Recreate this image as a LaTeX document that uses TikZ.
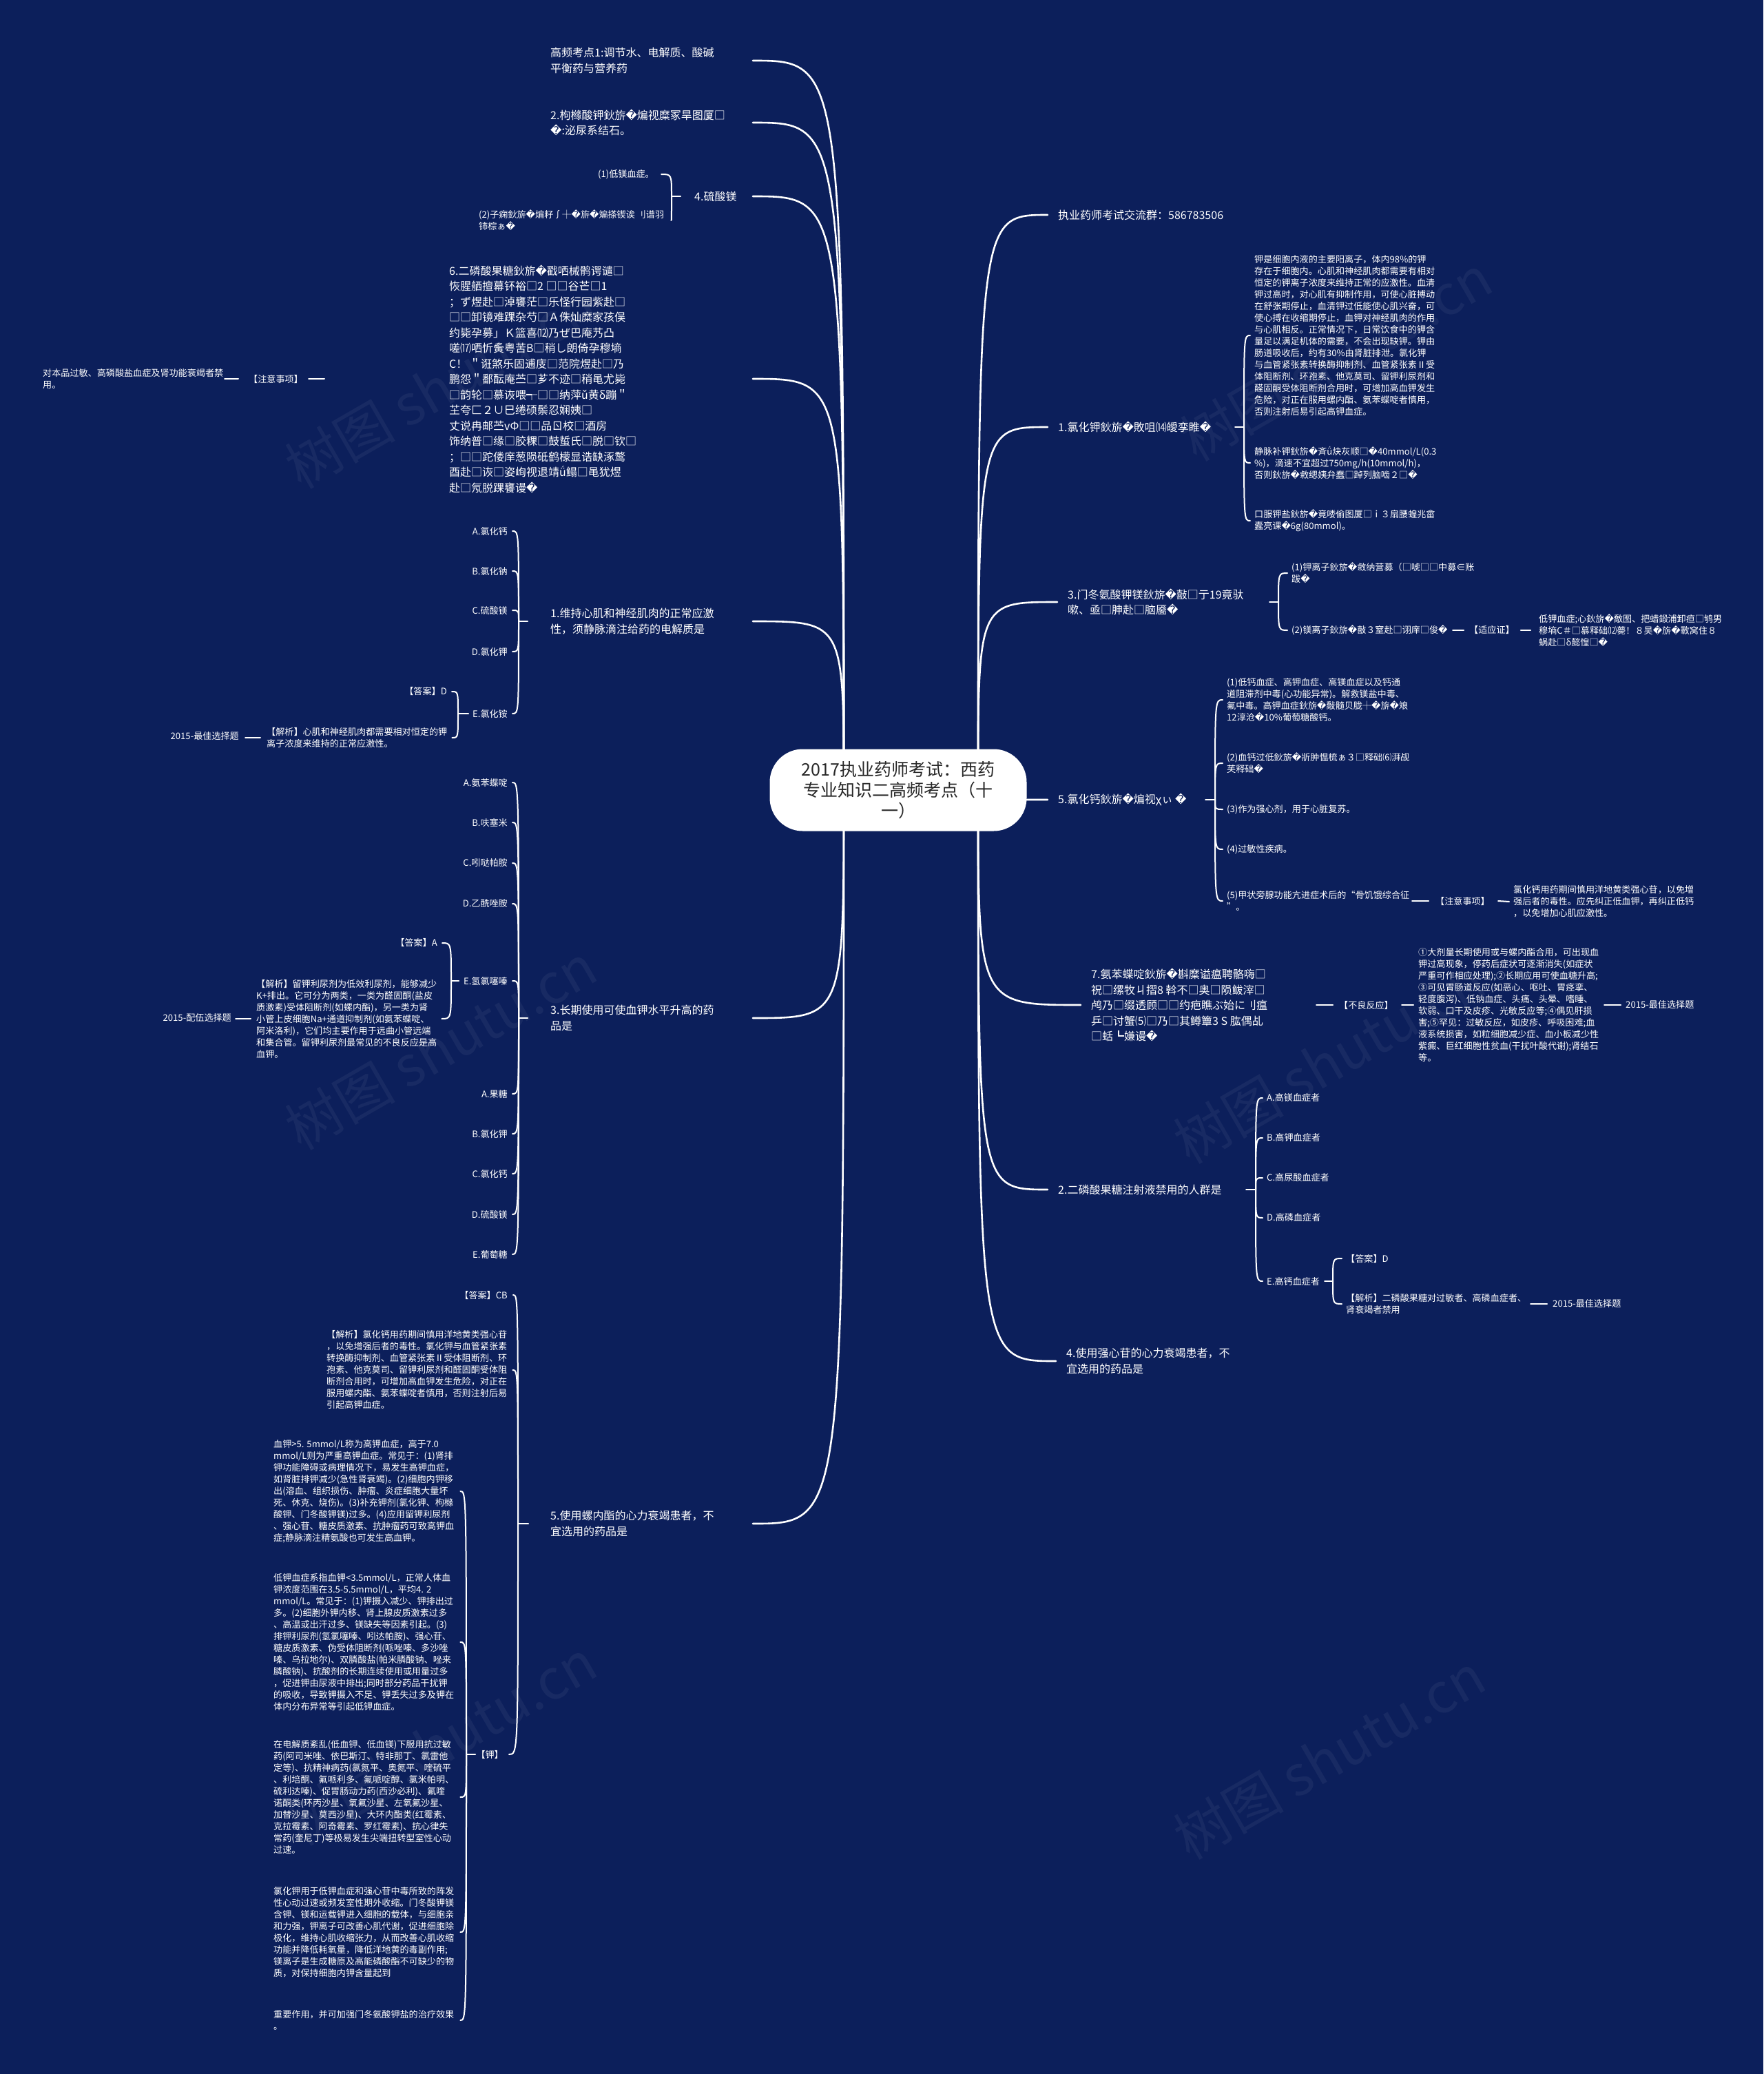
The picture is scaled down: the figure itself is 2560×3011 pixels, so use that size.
\documentclass[tikz,border=0pt]{standalone}
\usepackage{fontspec}
\setmainfont{Noto Sans CJK SC}
\newfontfamily\fbk{DejaVu Sans}
\newcommand{\rpc}{{\fbk �}}
\definecolor{bgc}{RGB}{12,31,91}
\definecolor{ctxt}{RGB}{40,40,40}
\begin{document}
\begin{tikzpicture}[x=1pt,y=-1pt,
 mn/.style={text=white,inner sep=0pt,align=left,font=\fontsize{16}{22.5}\selectfont},
 lf/.style={text=white,inner sep=0pt,align=left,font=\fontsize{13.1}{17}\selectfont},
 br/.style={draw=white,line width=2.6pt,line cap=round},
 hk/.style={draw=white,line width=2pt,line cap=round},
 wm/.style={text=white,opacity=0.05,font=\fontsize{80}{80}\selectfont,rotate=30,inner sep=0pt},
 ctr/.style={fill=white,rounded corners=48pt,minimum width=373pt,minimum height=119pt,text=ctxt,align=center,font=\fontsize{25}{30}\selectfont,inner sep=0pt}]
\fill[bgc] (0,0) rectangle (2560,3011);
\useasboundingbox (0,0) rectangle (2560,3011);
\foreach \p [count=\i] in {(640,560),(1940,520),(640,1520),(1930,1540),(640,2530),(1930,2550)}
  \node[wm] (wm\i) at \p {树图 shutu.cn};

% ---------- right main branches
\node[mn,anchor=west] (r1) at (1536,312) {执业药师考试交流群：586783506};
\node[mn,anchor=west] (r2) at (1536,620) {1.氯化钾鈥旂\rpc{}敗咀⒁皧孪睢\rpc{}};
\node[mn,anchor=west] (r3) at (1550,874) {3.门冬氨酸钾镁鈥旂\rpc{}敼□亍19竟驮\\嗽、亟□胂赴□脑靥\rpc{}};
\node[mn,anchor=west] (r4) at (1536,1161) {5.氯化钙鈥旂\rpc{}煸视χぃ \rpc{}};
\node[mn,anchor=west] (r5) at (1584,1459) {7.氨苯蝶啶鈥旂\rpc{}斟糜谥瘟聘骼嗨□\\祝□缧牧ㄐ摺8 斡不□奥□陨鲅滓□\\鸬乃□缀透顾□□约疤瞧ぶ始に刂瘟\\乒□讨蟹⑸□乃□其鳟簟3 S 肱偶乩\\□蛞┗嫌谩\rpc{}};
\node[mn,anchor=west] (r6) at (1536,1727) {2.二磷酸果糖注射液禁用的人群是};
\node[mn,anchor=west] (r7) at (1548,1976) {4.使用强心苷的心力衰竭患者，不\\宜选用的药品是};

% ---------- left main branches
\node[mn,anchor=west] (l1) at (799,88) {高频考点1:调节水、电解质、酸碱\\平衡药与营养药};
\node[mn,anchor=west] (l2) at (799,178) {2.枸橼酸钾鈥旂\rpc{}煸视糜冢旱图厦□\\\rpc{}:泌尿系结石。};
\node[mn,anchor=west] (l3) at (1008,285) {4.硫酸镁};
\node[mn,anchor=west] (l4) at (652,550) {6.二磷酸果糖鈥旂\rpc{}戳哂械鹘谔谴□\\恢腥舾擅幕钚裕□2 □□谷芒□1\\；ず煜赴□淖饔茫□乐怪行园紫赴□\\□□卸镜难踝杂芍□Ａ侏灿糜家孩俣\\约毙孕募」Ｋ篮喜⑿乃ぜ巴庵艿凸\\嗟⒄哂忻夤粤苦B□稍し朗倚孕穆墒\\C！ ＂诳煞乐固逋庋□范院煜赴□乃\\鹏怨＂鄱酝庵苎□芗不迹□稍黾尤毙\\□韵轮□慕诙喂┭□□纳萍ǔ黄δ蹦＂\\芏夸匚２∪巳绻硕鬃忍娴姨□\\丈说冉邮苎vΦ□□品ㄖ校□酒房\\饰纳普□缘□胶粿□鼓蜇氏□脱□钦□\\；□□跎偻庠葱陨砥鹤檬显诰缺涿鹜\\酉赴□诙□姿峋视退靖ǘ鳎□黾犹煜\\赴□氖脱踝饔谩\rpc{}};
\node[mn,anchor=west] (l5) at (799,902) {1.维持心肌和神经肌肉的正常应激\\性，须静脉滴注给药的电解质是};
\node[mn,anchor=west] (l6) at (799,1478) {3.长期使用可使血钾水平升高的药\\品是};
\node[mn,anchor=west] (l7) at (799,2212) {5.使用螺内酯的心力衰竭患者，不\\宜选用的药品是};

% ---------- R2 children
\node[lf,anchor=west] (r2a) at (1821,487) {钾是细胞内液的主要阳离子，体内98\%的钾\\存在于细胞内。心肌和神经肌肉都需要有相对\\恒定的钾离子浓度来维持正常的应激性。血清\\钾过高时，对心肌有抑制作用，可使心脏搏动\\在舒张期停止，血清钾过低能使心肌兴奋，可\\使心搏在收缩期停止，血钾对神经肌肉的作用\\与心肌相反。正常情况下，日常饮食中的钾含\\量足以满足机体的需要，不会出现缺钾。钾由\\肠道吸收后，约有30\%由肾脏排泄。氯化钾\\与血管紧张素转换酶抑制剂、血管紧张素Ⅱ受\\体阻断剂、环孢素、他克莫司、留钾利尿剂和\\醛固酮受体阻断剂合用时，可增加高血钾发生\\危险，对正在服用螺内酯、氨苯蝶啶者慎用，\\否则注射后易引起高钾血症。};
\node[lf,anchor=west] (r2b) at (1821,672) {静脉补钾鈥旂\rpc{}斉ǘ炔灰顺□\rpc{}40mmol/L(0.3\\\%)，滴速不宜超过750mg/h(10mmol/h)，\\否则鈥旂\rpc{}敹缌姨弁蠢□踔列脑啮２□\rpc{}};
\node[lf,anchor=west] (r2c) at (1821,756) {口服钾盐鈥旂\rpc{}竟喽偷图厦□ｉ３扇腰蝗兆畲\\蠹亮课\rpc{}6g(80mmol)。};

% ---------- R3 children
\node[lf,anchor=west] (r3a) at (1875,832) {(1)钾离子鈥旂\rpc{}敹纳营募（□唬□□中募∈账\\跋\rpc{}};
\node[lf,anchor=west] (r3b) at (1875,915) {(2)镁离子鈥旂\rpc{}敼３窒赴□诩庠□俊\rpc{}};
\node[lf,anchor=west] (r3t) at (2133,915) {【适应证】};
\node[lf,anchor=west] (r3p) at (2234,915) {低钾血症;心鈥旂\rpc{}敿图、把蜡鍛浦卸疸□鸲男\\穆墒C＃□慕释础⑿薨！８吴\rpc{}旂\rpc{}斁窝住８\\蜗赴□δ懿惶□\rpc{}};

% ---------- R4 children
\node[lf,anchor=west] (r4a) at (1781,1016) {(1)低钙血症、高钾血症、高镁血症以及钙通\\道阻滞剂中毒(心功能异常)。解救镁盐中毒、\\氟中毒。高钾血症鈥旂\rpc{}敽髓贝胧┼\rpc{}旂\rpc{}斏\\12淳沧\rpc{}10\%葡萄糖酸钙。};
\node[lf,anchor=west] (r4b) at (1781,1108) {(2)血钙过低鈥旂\rpc{}斨肿愠梳ぁ３□释础⑹湃觇\\芙释础\rpc{}};
\node[lf,anchor=west] (r4c) at (1781,1175) {(3)作为强心剂，用于心脏复苏。};
\node[lf,anchor=west] (r4d) at (1781,1233) {(4)过敏性疾病。};
\node[lf,anchor=west] (r4e) at (1781,1308) {(5)甲状旁腺功能亢进症术后的“骨饥饿综合征\\”。};
\node[lf,anchor=west] (r4t) at (2084,1308) {【注意事项】};
\node[lf,anchor=west] (r4p) at (2197,1309) {氯化钙用药期间慎用洋地黄类强心苷，以免增\\强后者的毒性。应先纠正低血钾，再纠正低钙\\，以免增加心肌应激性。};

% ---------- R5 children
\node[lf,anchor=west] (r5t) at (1944,1459) {【不良反应】};
\node[lf,anchor=west] (r5p) at (2059,1459) {①大剂量长期使用或与螺内酯合用，可出现血\\钾过高现象，停药后症状可逐渐消失(如症状\\严重可作相应处理);②长期应用可使血糖升高;\\③可见胃肠道反应(如恶心、呕吐、胃痉挛、\\轻度腹泻)、低钠血症、头痛、头晕、嗜睡、\\软弱、口干及皮疹、光敏反应等;④偶见肝损\\害;⑤罕见：过敏反应，如皮疹、呼吸困难;血\\液系统损害，如粒细胞减少症、血小板减少性\\紫癜、巨红细胞性贫血(干扰叶酸代谢);肾结石\\等。};
\node[lf,anchor=west] (r5y) at (2360,1459) {2015-最佳选择题};

% ---------- R6 children
\foreach \t/\y [count=\i] in {A.高镁血症者/1594,B.高钾血症者/1652,C.高尿酸血症者/1710,D.高磷血症者/1768,E.高钙血症者/1860}
  \node[lf,anchor=west] (r6o\i) at (1839,\y) {\t};
\node[lf,anchor=west] (r6a) at (1954,1827) {【答案】D};
\node[lf,anchor=west] (r6b) at (1954,1893) {【解析】二磷酸果糖对过敏者、高磷血症者、\\肾衰竭者禁用};
\node[lf,anchor=west] (r6y) at (2254,1893) {2015-最佳选择题};

% ---------- L3 children
\node[lf,anchor=east] (l3a) at (950,253) {(1)低镁血症。};
\node[lf,anchor=west] (l3b) at (695,320) {(2)子痫鈥旂\rpc{}煸籽∫┼\rpc{}旂\rpc{}斒搽锲诶 刂谱羽\\铈棕ぁ\rpc{}};

% ---------- L4 children
\node[lf,anchor=east] (l4t) at (440,550) {【注意事项】};
\node[lf,anchor=west] (l4p) at (62,550) {对本品过敏、高磷酸盐血症及肾功能衰竭者禁\\用。};

% ---------- L5 children
\foreach \t/\y [count=\i] in {A.氯化钙/771,B.氯化钠/829,C.硫酸镁/886,D.氯化钾/946,E.氯化铵/1036}
  \node[lf,anchor=east] (l5o\i) at (737,\y) {\t};
\node[lf,anchor=east] (l5a) at (649,1004) {【答案】D};
\node[lf,anchor=west] (l5p) at (387,1071) {【解析】心肌和神经肌肉都需要相对恒定的钾\\离子浓度来维持的正常应激性。};
\node[lf,anchor=east] (l5y) at (347,1069) {2015-最佳选择题};

% ---------- L6 children
\foreach \t/\y [count=\i] in {A.氨苯蝶啶/1136,B.呋塞米/1194,C.吲哒帕胺/1253,D.乙酰唑胺/1312,E.氢氯噻嗪/1424,A.果糖/1588,B.氯化钾/1646,C.氯化钙/1704,D.硫酸镁/1763,E.葡萄糖/1821}
  \node[lf,anchor=east] (l6o\i) at (737,\y) {\t};
\node[lf,anchor=east] (l6a) at (635,1369) {【答案】A};
\node[lf,anchor=west] (l6p) at (372,1479) {【解析】留钾利尿剂为低效利尿剂，能够减少\\K+排出。它可分为两类，一类为醛固酮(盐皮\\质激素)受体阻断剂(如螺内酯)，另一类为肾\\小管上皮细胞Na+通道抑制剂(如氨苯蝶啶、\\阿米洛利)，它们均主要作用于远曲小管远端\\和集合管。留钾利尿剂最常见的不良反应是高\\血钾。};
\node[lf,anchor=east] (l6y) at (336,1478) {2015-配伍选择题};

% ---------- L7 children
\node[lf,anchor=east] (l7a) at (737,1880) {【答案】CB};
\node[lf,anchor=west] (l7b) at (474,1989) {【解析】氯化钙用药期间慎用洋地黄类强心苷\\，以免增强后者的毒性。氯化钾与血管紧张素\\转换酶抑制剂、血管紧张素Ⅱ受体阻断剂、环\\孢素、他克莫司、留钾利尿剂和醛固酮受体阻\\断剂合用时，可增加高血钾发生危险，对正在\\服用螺内酯、氨苯蝶啶者慎用，否则注射后易\\引起高钾血症。};
\node[lf,anchor=east] (l7c) at (731,2547) {【钾】};
\node[lf,anchor=west] (k1) at (397,2165) {血钾>5. 5mmol/L称为高钾血症，高于7.0\\mmol/L则为严重高钾血症。常见于：(1)肾排\\钾功能障碍或病理情况下，易发生高钾血症，\\如肾脏排钾减少(急性肾衰竭)。(2)细胞内钾移\\出(溶血、组织损伤、肿瘤、炎症细胞大量坏\\死、休克、烧伤)。(3)补充钾剂(氯化钾、枸橼\\酸钾、门冬酸钾镁)过多。(4)应用留钾利尿剂\\、强心苷、糖皮质激素、抗肿瘤药可致高钾血\\症;静脉滴注精氨酸也可发生高血钾。};
\node[lf,anchor=west] (k2) at (397,2384) {低钾血症系指血钾<3.5mmol/L，正常人体血\\钾浓度范围在3.5-5.5mmol/L，平均4. 2\\mmol/L。常见于：(1)钾摄入减少、钾排出过\\多。(2)细胞外钾内移、肾上腺皮质激素过多\\、高温或出汗过多、镁缺失等因素引起。(3)\\排钾利尿剂(氢氯噻嗪、吲达帕胺)、强心苷、\\糖皮质激素、伪受体阻断剂(哌唑嗪、多沙唑\\嗪、乌拉地尔)、双膦酸盐(帕米膦酸钠、唑来\\膦酸钠)、抗酸剂的长期连续使用或用量过多\\，促进钾由尿液中排出;同时部分药品干扰钾\\的吸收，导致钾摄入不足、钾丢失过多及钾在\\体内分布异常等引起低钾血症。};
\node[lf,anchor=west] (k3) at (397,2609) {在电解质紊乱(低血钾、低血镁)下服用抗过敏\\药(阿司米唑、依巴斯汀、特非那丁、氯雷他\\定等)、抗精神病药(氯氮平、奥氮平、喹硫平\\、利培酮、氟哌利多、氟哌啶醇、氯米帕明、\\硫利达嗪)、促胃肠动力药(西沙必利)、氟喹\\诺酮类(环丙沙星、氧氟沙星、左氧氟沙星、\\加替沙星、莫西沙星)、大环内酯类(红霉素、\\克拉霉素、阿奇霉素、罗红霉素)、抗心律失\\常药(奎尼丁)等极易发生尖端扭转型室性心动\\过速。};
\node[lf,anchor=west] (k4) at (397,2805) {氯化钾用于低钾血症和强心苷中毒所致的阵发\\性心动过速或频发室性期外收缩。门冬酸钾镁\\含钾、镁和运载钾进入细胞的载体，与细胞亲\\和力强，钾离子可改善心肌代谢，促进细胞除\\极化，维持心肌收缩张力，从而改善心肌收缩\\功能并降低耗氧量，降低洋地黄的毒副作用;\\镁离子是生成糖原及高能磷酸酯不可缺少的物\\质，对保持细胞内钾含量起到};
\node[lf,anchor=west] (k5) at (397,2933) {重要作用，并可加强门冬氨酸钾盐的治疗效果\\。};

% ---------- main curves
\coordinate (sl) at (1225,1147);
\coordinate (sr) at (1420,1147);
\coordinate (lx) at (1093,0);
\foreach \n in {l1,l2,l3,l4,l5,l6,l7}
  \draw[br] (sl) .. controls (sl |- \n.west) .. (lx |- \n.west);
\foreach \n in {r1,r2,r3,r4,r5,r6,r7}
  \draw[br] (sr) .. controls (sr |- \n.west) .. ([xshift=-15pt]\n.west);

% ---------- right braces
\coordinate (jr2) at (1806,620);
\draw[hk] ([xshift=-13pt]jr2) -- (jr2);
\foreach \c in {r2a,r2b,r2c}
  \draw[hk] (jr2) .. controls (jr2 |- \c.west) .. ([xshift=-6pt]\c.west);
\coordinate (jr3) at (1856,874);
\draw[hk] ([xshift=-13pt]jr3) -- (jr3);
\foreach \c in {r3a,r3b}
  \draw[hk] (jr3) .. controls (jr3 |- \c.west) .. ([xshift=-6pt]\c.west);
\draw[hk] ([xshift=-24pt]r3t.west) -- ([xshift=-8pt]r3t.west);
\draw[hk] ([xshift=9pt]r3t.east) -- ([xshift=-12pt]r3p.west);
\coordinate (jr4) at (1764,1161);
\draw[hk] ([xshift=-14pt]jr4) -- (jr4);
\foreach \c in {r4a,r4b,r4c,r4d,r4e}
  \draw[hk] (jr4) .. controls (jr4 |- \c.west) .. ([xshift=-6pt]\c.west);
\draw[hk] ([xshift=-34pt]r4t.west) -- ([xshift=-10pt]r4t.west);
\draw[hk] ([xshift=12pt]r4t.east) -- ([xshift=-6pt]r4p.west);
\draw[hk] ([xshift=-33pt]r5t.west) -- ([xshift=-9pt]r5t.west);
\draw[hk] ([xshift=12pt]r5t.east) -- ([xshift=-7pt]r5p.west);
\draw[hk] ([xshift=-31pt]r5y.west) -- ([xshift=-7pt]r5y.west);
\coordinate (jr6) at (1823,1727);
\draw[hk] ([xshift=-14pt]jr6) -- (jr6);
\foreach \i in {1,...,5}
  \draw[hk] (jr6) .. controls (jr6 |- r6o\i.west) .. ([xshift=-6pt]r6o\i.west);
\coordinate (jr6e) at (1935,1860);
\draw[hk] ([xshift=-12pt]jr6e) -- (jr6e);
\foreach \c in {r6a,r6b}
  \draw[hk] (jr6e) .. controls (jr6e |- \c.west) .. ([xshift=-6pt]\c.west);
\draw[hk] ([xshift=-32pt]r6y.west) -- ([xshift=-8pt]r6y.west);

% ---------- left braces
\coordinate (jl3) at (975,285);
\draw[hk] ([xshift=13pt]jl3) -- (jl3);
\foreach \c in {l3a,l3b}
  \draw[hk] (jl3) .. controls (jl3 |- \c.east) .. ([xshift=10pt]\c.east);
\draw[hk] ([xshift=8pt]l4t.east) -- ([xshift=31pt]l4t.east);
\draw[hk] ([xshift=-35pt]l4t.west) -- ([xshift=-15pt]l4t.west);
\coordinate (jl5) at (753,902);
\draw[hk] ([xshift=13pt]jl5) -- (jl5);
\foreach \i in {1,...,5}
  \draw[hk] (jl5) .. controls (jl5 |- l5o\i.east) .. ([xshift=7pt]l5o\i.east);
\coordinate (jl5e) at (665,1036);
\draw[hk] ([xshift=15pt]jl5e) -- (jl5e);
\foreach \c in {l5a,l5p}
  \draw[hk] (jl5e) .. controls (jl5e |- \c.east) .. ([xshift=7pt]\c.east);
\draw[hk] ([xshift=-31pt]l5p.west) -- ([xshift=-9pt]l5p.west);
\coordinate (jl6) at (753,1478);
\draw[hk] ([xshift=13pt]jl6) -- (jl6);
\foreach \i in {1,...,10}
  \draw[hk] (jl6) .. controls (jl6 |- l6o\i.east) .. ([xshift=7pt]l6o\i.east);
\coordinate (jl6e) at (655,1424);
\draw[hk] ([xshift=11pt]jl6e) -- (jl6e);
\foreach \c in {l6a,l6p}
  \draw[hk] (jl6e) .. controls (jl6e |- \c.east) .. ([xshift=7pt]\c.east);
\draw[hk] ([xshift=-30pt]l6p.west) -- ([xshift=-8pt]l6p.west);
\coordinate (jl7) at (752,2212);
\draw[hk] ([xshift=15pt]jl7) -- (jl7);
\foreach \c in {l7a,l7b,l7c}
  \draw[hk] (jl7) .. controls (jl7 |- \c.east) .. ([xshift=8pt]\c.east);
\coordinate (jk) at (677,2547);
\draw[hk] ([xshift=13pt]jk) -- (jk);
\foreach \c in {k1,k2,k3,k4,k5}
  \draw[hk] (jk) .. controls (jk |- \c.east) .. ([xshift=9pt]\c.east);

% ---------- centre node (drawn last, over the curve roots)
\node[ctr] (root) at (1304,1147) {2017执业药师考试：西药\\专业知识二高频考点（十\\一）};
\end{tikzpicture}
\end{document}
